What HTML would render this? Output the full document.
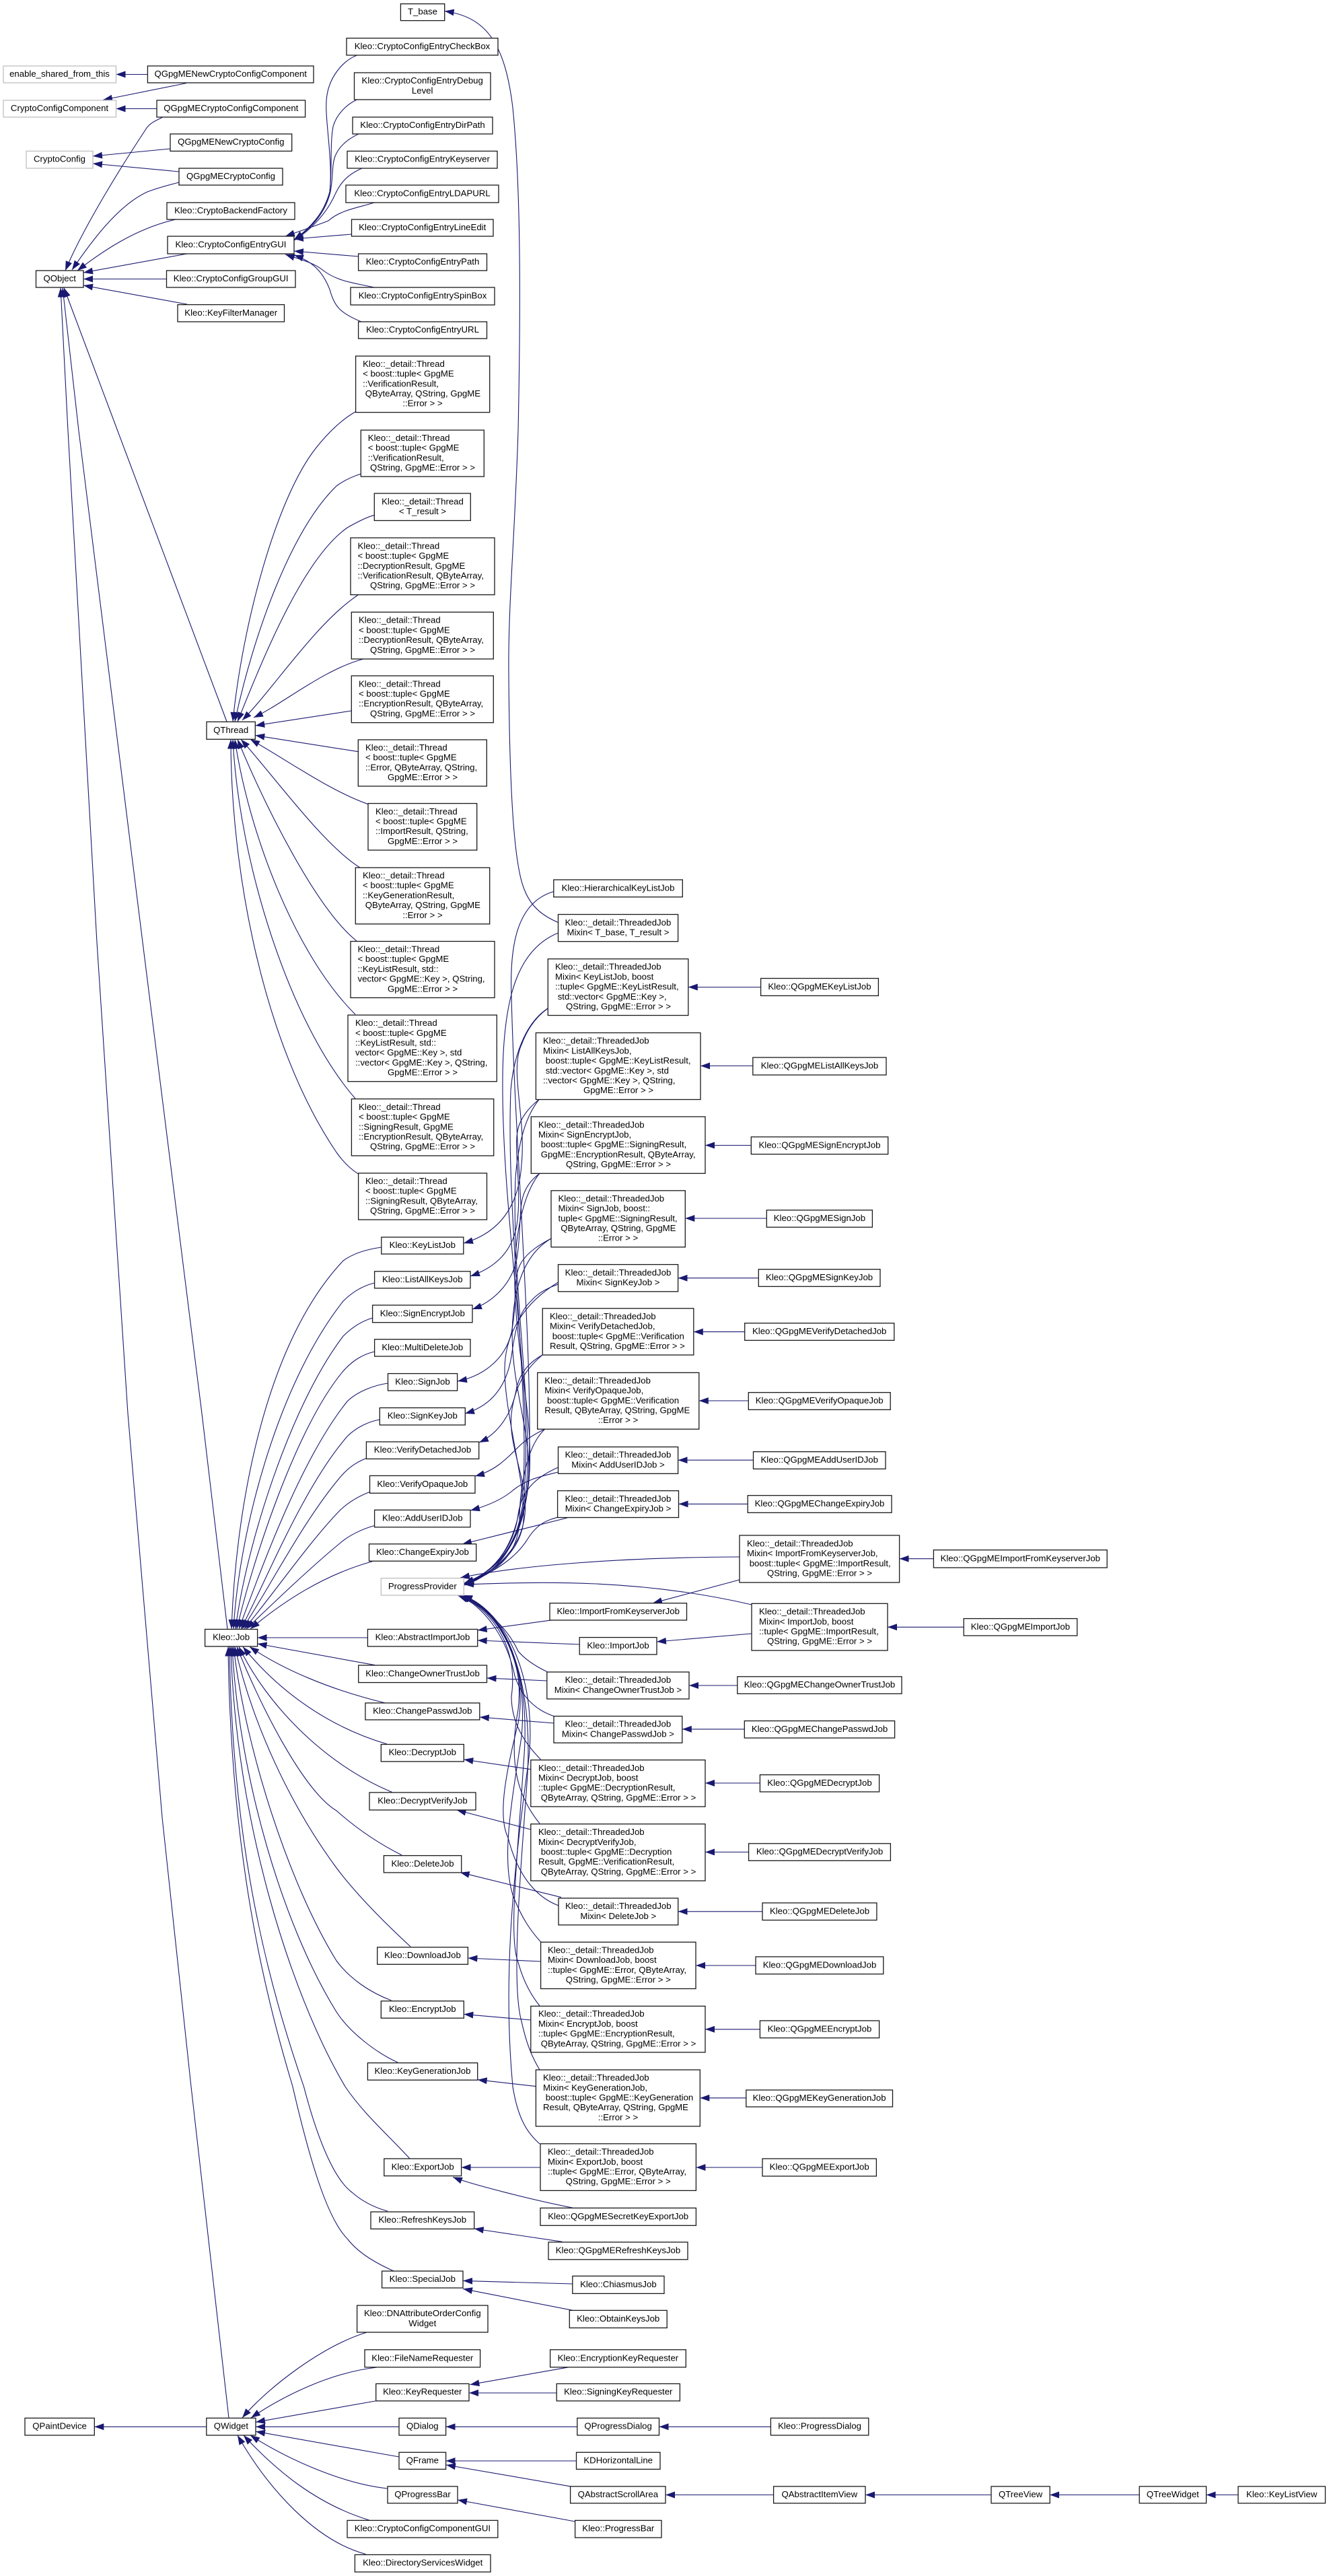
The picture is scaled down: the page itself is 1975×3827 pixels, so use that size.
<!DOCTYPE html>
<html><head><meta charset="utf-8"><title>Kleo class diagram</title>
<style>
html,body{margin:0;padding:0;background:#fff}
svg{display:block}
text{font-family:"Liberation Sans",sans-serif;font-size:13.2px;fill:#000;text-anchor:middle;stroke:none}
text.l{text-anchor:start}
.e path{fill:none;stroke:#191970;stroke-width:1.1;marker-start:url(#a)}
.n rect{fill:#fff;stroke:#1a1a1a;stroke-width:1.3}
.g rect{fill:#fff;stroke:#bfbfbf;stroke-width:1.3}
</style></head><body>
<svg xmlns="http://www.w3.org/2000/svg" width="1975" height="3827" viewBox="0 0 1975 3827">
<defs><marker id="a" markerUnits="userSpaceOnUse" markerWidth="14" markerHeight="10" viewBox="0 0 14 10" refX="14" refY="5" orient="auto-start-reverse"><path d="M0,0L14,5L0,10z" fill="#191970"/></marker></defs>
<rect width="1975" height="3827" fill="#fff"/>
<g class="e">
<path d="M172.5,110.5L219.4,110.5"/>
<path d="M153,148.5L277,123.5"/>
<path d="M172.5,161.5L233,161.5"/>
<path d="M97,402C125,335 185,240 218,190C224,182 232,179 242,174"/>
<path d="M138,232L253,221"/>
<path d="M138,243L266,255"/>
<path d="M107,401C135,360 175,305 219,285C235,279 250,275 266,271"/>
<path d="M115,402C150,375 200,340 261,326"/>
<path d="M124,405L278,377"/>
<path d="M124,414.5L247.5,414.5"/>
<path d="M124,424L278,452"/>
<path d="M660.7,16.5C720,25 750,60 762,160C772,260 775,400 770,640C765,800 755,900 756,1000C757,1150 762,1280 779,1321C790,1350 810,1362 829.5,1370.5"/>
<path d="M437,356C460,340 480,320 490,285C495,240 483,180 485,150C487,115 510,90 530.6,82"/>
<path d="M437,356C460,340 483,315 490,285C494,250 490,215 495,188C500,170 515,155 530.6,148"/>
<path d="M437,356C462,340 483,318 491,285C495,265 493,245 498,232C505,215 520,205 533,199"/>
<path d="M437,357C465,340 485,315 495,295C503,278 510,262 538,250"/>
<path d="M424,351C450,342 470,335 488,328C505,312 535,308 556,301"/>
<path d="M437,355L522.5,348"/>
<path d="M437,373L532.6,381"/>
<path d="M424,378C445,385 465,390 478,400C500,418 525,420 556,427"/>
<path d="M437,379C470,390 482,410 490,430C497,455 505,465 537,478"/>
<path d="M90,427.5L101,640L144,1400L190,2100L241,2700L284,3100L340,3592"/>
<path d="M93,427.5L117,640L212,1400L300,2100L338,2420"/>
<path d="M95,427.5L337,1072"/>
<path d="M346,1072C360,930 410,740 470,665C490,640 510,622 528.7,611.5"/>
<path d="M349,1072C375,950 430,790 500,722C512,713 524,708 536.3,704"/>
<path d="M353,1072C390,980 450,830 516,784C530,776 545,768 556.3,765.3"/>
<path d="M360,1070C405,1025 470,925 532,884"/>
<path d="M377,1066C420,1046 480,995 540,979"/>
<path d="M379.3,1078L522.3,1056"/>
<path d="M379.3,1092.5L532.3,1116.7"/>
<path d="M372,1098.5C420,1125 490,1175 547,1194.7"/>
<path d="M358,1098.5C405,1150 480,1255 535,1289"/>
<path d="M353,1098.5C395,1200 470,1350 530,1398"/>
<path d="M349,1098.5C370,1240 440,1420 528,1507"/>
<path d="M346,1098.5C355,1280 430,1520 528,1632"/>
<path d="M343,1098.5C343,1290 390,1550 500,1712Q515,1733 532,1743.7"/>
<path d="M344,2420C350,2250 390,2000 510,1873C525,1862 545,1856 566.8,1853"/>
<path d="M347,2420C355,2280 410,2060 510,1933C525,1918 540,1910 556.6,1906"/>
<path d="M350,2420C365,2300 430,2090 510,1985C525,1970 540,1962 553.6,1958"/>
<path d="M352,2420C375,2320 440,2120 510,2037C525,2020 540,2012 556.6,2008"/>
<path d="M355,2420C385,2340 445,2170 516,2082C530,2068 555,2058 576.5,2055"/>
<path d="M358,2420C395,2350 450,2210 516,2134C530,2120 548,2112 564.3,2109"/>
<path d="M360,2420C400,2360 450,2260 506,2194C518,2180 530,2172 544.4,2166.5"/>
<path d="M363,2420C405,2370 460,2290 506,2243C520,2230 535,2222 549.5,2216.5"/>
<path d="M366,2420C410,2378 460,2330 506,2292C520,2280 540,2271 556.6,2266.5"/>
<path d="M372,2420C420,2380 480,2340 553.6,2319.6"/>
<path d="M382.6,2433L546.4,2433"/>
<path d="M382.6,2442L557,2473.7"/>
<path d="M371,2446.5C420,2480 490,2510 572.4,2530"/>
<path d="M361,2446.5C400,2495 470,2560 575,2591"/>
<path d="M355,2446.5C395,2530 480,2620 582.6,2662.5"/>
<path d="M352,2446.5C385,2530 450,2660 500,2690Q545,2730 597,2756"/>
<path d="M349,2446.5C375,2560 430,2680 500,2775C530,2815 570,2855 610,2892"/>
<path d="M347,2446.5C365,2600 430,2800 500,2913C520,2940 550,2960 581.6,2972"/>
<path d="M345,2446.5C355,2640 420,2860 500,2989C520,3020 560,3050 591,3064"/>
<path d="M343,2446.5C350,2700 430,2960 513,3100C540,3140 575,3170 609,3207"/>
<path d="M341,2446.5C345,2750 400,2950 451.5,3100C475,3190 500,3240 523,3257C540,3272 558,3280 576,3285"/>
<path d="M339,2446.5C343,2750 390,2950 435,3100C465,3230 490,3300 517,3327C535,3350 565,3365 585,3374"/>
<path d="M689,1847C730,1835 770,1805 775,1730C782,1660 757,1590 775,1552C785,1525 800,1508 814.3,1498"/>
<path d="M699,1896C730,1885 760,1865 768,1820C777,1760 760,1700 772,1670C778,1655 790,1642 801,1633.5"/>
<path d="M702,1945C730,1935 760,1910 768,1870C775,1830 770,1790 780,1770C785,1758 793,1750 802,1743.3"/>
<path d="M680,2052C715,2045 750,2022 760,1980C770,1930 760,1900 775,1875C785,1860 800,1850 819,1840"/>
<path d="M691,2100C725,2090 752,2065 760,2015C766,1975 770,1950 790,1932C800,1920 815,1913 829.5,1908"/>
<path d="M712,2143C740,2130 762,2100 768,2060C775,2035 790,2022 806,2013"/>
<path d="M706,2193C735,2185 750,2170 770,2150C780,2140 795,2130 810,2123"/>
<path d="M699,2244C725,2237 745,2228 760,2216C780,2198 805,2193 829.5,2187"/>
<path d="M687,2294L843,2255"/>
<path d="M690,2355C735,2340 775,2300 785,2200C795,2050 765,1700 760,1480C757,1400 770,1340 822.8,1324.5"/>
<path d="M690,2354C730,2340 775,2310 780,2200C790,2050 745,1800 747,1600C748,1480 770,1410 829.5,1386"/>
<path d="M690,2353C735,2335 770,2300 778,2200C785,2050 752,1800 759,1620C763,1570 780,1520 814.3,1498"/>
<path d="M690,2353C735,2335 775,2300 783,2200C790,2080 760,1900 766,1750C770,1700 780,1660 801,1633.5"/>
<path d="M690,2352C735,2335 775,2300 786,2200C795,2100 762,2000 765,1880C768,1820 780,1770 802,1743"/>
<path d="M690,2352C735,2335 778,2300 785,2200C792,2130 755,2050 762,1960C766,1900 785,1860 819,1840"/>
<path d="M690,2352C730,2340 765,2310 775,2275C790,2230 750,2110 750,2035C750,1980 780,1935 829.5,1905"/>
<path d="M690,2352C735,2338 775,2300 780,2250C785,2200 755,2150 760,2100C765,2060 780,2035 806,2013"/>
<path d="M690,2352C735,2340 770,2310 772,2260C772,2220 780,2150 810,2123"/>
<path d="M690,2352C740,2335 765,2290 770,2250C775,2215 795,2195 829.5,2180"/>
<path d="M690,2352C740,2335 770,2310 785,2285C800,2262 815,2258 829,2254"/>
<path d="M684,2344C760,2328 900,2314 1099,2313"/>
<path d="M690,2354C800,2350 950,2345 1117,2384"/>
<path d="M680,2370C720,2385 755,2420 770,2453C780,2465 795,2475 812.8,2483.5"/>
<path d="M682,2370C725,2390 755,2440 765,2490C775,2520 795,2540 823,2549.6"/>
<path d="M684,2370C735,2395 770,2450 760,2520C760,2560 780,2590 803.6,2614"/>
<path d="M685,2370C740,2395 780,2460 770,2540C755,2620 770,2670 802,2709"/>
<path d="M687,2370C745,2395 785,2480 770,2560C750,2640 740,2700 755,2730C770,2790 800,2820 830,2831"/>
<path d="M688,2370C745,2395 785,2470 775,2580C760,2680 745,2760 762,2815C775,2850 790,2870 803.6,2885"/>
<path d="M688,2370C750,2395 790,2480 778,2620C770,2750 755,2880 770,2915C778,2945 790,2965 802,2980"/>
<path d="M688,2370C750,2395 795,2490 783,2650C772,2800 760,2950 775,3003C782,3035 790,3055 802,3075"/>
<path d="M688,2370C755,2395 800,2500 785,2620C760,2800 748,2950 762,3100C770,3150 785,3170 802,3185"/>
<path d="M709.7,2422L821.4,2406.7"/>
<path d="M709.7,2437L861,2443"/>
<path d="M970,2381.7L1099,2347"/>
<path d="M976,2439L1116.8,2427"/>
<path d="M723.5,2493L812.8,2497"/>
<path d="M712.8,2551L823,2560"/>
<path d="M689.3,2614L788.8,2628.6"/>
<path d="M678.6,2689L788.8,2718"/>
<path d="M683.7,2781.7L834,2818.7"/>
<path d="M695.4,2909L803.6,2914"/>
<path d="M689.3,2992.4L788.8,3001"/>
<path d="M709.7,3089.7L796.4,3099.6"/>
<path d="M685.6,3220L803,3220"/>
<path d="M673,3234.4C700,3245 790,3268 851,3280"/>
<path d="M704.7,3311L835.5,3330.4"/>
<path d="M688,3388.4L850.8,3393"/>
<path d="M688,3400.4L851.4,3432.4"/>
<path d="M360,3592C400,3545 480,3485 545,3465"/>
<path d="M373,3592C420,3560 490,3525 560,3517"/>
<path d="M380,3598.4L558,3567"/>
<path d="M380,3605.3L593,3605.3"/>
<path d="M380,3612.3L593,3650"/>
<path d="M372,3618C430,3655 510,3690 576,3697"/>
<path d="M362,3618C410,3670 470,3720 548.5,3744"/>
<path d="M353,3618C400,3700 470,3775 543.4,3794.5"/>
<path d="M140.3,3605.3L306.8,3605.3"/>
<path d="M698.4,3542.7L845,3516.8"/>
<path d="M697,3555L827.2,3555"/>
<path d="M662.6,3605.3L857.8,3605.3"/>
<path d="M979.5,3605.3L1145.4,3605.3"/>
<path d="M662.6,3656L856.5,3656"/>
<path d="M663,3662L848,3693.9"/>
<path d="M989,3706.5L1149.6,3706.5"/>
<path d="M1286,3706.5L1473,3706.5"/>
<path d="M1560,3706.5L1693,3706.5"/>
<path d="M1792.6,3706.5L1840,3706.5"/>
<path d="M680,3714L854.6,3746"/>
<path d="M1022.8,1466.5L1130.5,1466.5"/>
<path d="M1041,1583.5L1118.8,1583.5"/>
<path d="M1048,1701.5L1116.3,1701.5"/>
<path d="M1018.3,1810L1139.3,1810"/>
<path d="M1007.6,1898.7L1127.3,1898.7"/>
<path d="M1030.8,1978.6L1106.7,1978.6"/>
<path d="M1038.8,2081L1112.3,2081"/>
<path d="M1007.6,2169.2L1119.5,2169.2"/>
<path d="M1008.5,2234.4L1111.2,2234.4"/>
<path d="M1336.6,2315.7L1387.4,2315.7"/>
<path d="M1319,2417.3L1432.2,2417.3"/>
<path d="M1024,2504L1095.8,2504"/>
<path d="M1013.8,2568.9L1106.3,2568.9"/>
<path d="M1048,2649L1129.4,2649"/>
<path d="M1048,2751.5L1112.6,2751.5"/>
<path d="M1007.7,2839.8L1133,2839.8"/>
<path d="M1034,2920L1123,2920"/>
<path d="M1048,3014.8L1129.4,3014.8"/>
<path d="M1040.3,3116.8L1108.8,3116.8"/>
<path d="M1034.4,3220L1133,3220"/>
</g>
<g class="g">
<rect x="5" y="98" width="167.5" height="25"/><text x="88.5" y="114">enable_shared_from_this</text>
<rect x="5" y="149" width="167.5" height="25"/><text x="88.5" y="165">CryptoConfigComponent</text>
<rect x="39" y="224.5" width="99" height="25.5"/><text x="88.5" y="240.7">CryptoConfig</text>
<rect x="566.3" y="2344.6" width="123" height="25.4"/><text x="627.8" y="2360.8">ProgressProvider</text>
</g>
<g class="n">
<rect x="595.4" y="5.7" width="65.3" height="24.9"/><text x="628" y="21.6">T_base</text>
<rect x="515" y="56.7" width="225" height="25.3"/><text x="627.5" y="72.8">Kleo::CryptoConfigEntryCheckBox</text>
<rect x="526.5" y="108" width="202.5" height="40"/><text x="627.7" y="124.2">Kleo::CryptoConfigEntryDebug</text><text x="627.7" y="138.9">Level</text>
<rect x="524" y="174" width="208" height="25"/><text x="628" y="190">Kleo::CryptoConfigEntryDirPath</text>
<rect x="516" y="224.5" width="223" height="25.5"/><text x="627.5" y="240.7">Kleo::CryptoConfigEntryKeyserver</text>
<rect x="514" y="275" width="227" height="26"/><text x="627.5" y="291.5">Kleo::CryptoConfigEntryLDAPURL</text>
<rect x="522.5" y="326" width="210.5" height="25"/><text x="627.7" y="342">Kleo::CryptoConfigEntryLineEdit</text>
<rect x="532.6" y="377" width="190.9" height="25"/><text x="628" y="393">Kleo::CryptoConfigEntryPath</text>
<rect x="521" y="427" width="214" height="26"/><text x="628" y="443.5">Kleo::CryptoConfigEntrySpinBox</text>
<rect x="532.6" y="478" width="190.9" height="25"/><text x="628" y="494">Kleo::CryptoConfigEntryURL</text>
<rect x="219.4" y="98" width="246.6" height="25"/><text x="342.7" y="114">QGpgMENewCryptoConfigComponent</text>
<rect x="233" y="149" width="220.6" height="25"/><text x="343.3" y="165">QGpgMECryptoConfigComponent</text>
<rect x="253" y="199" width="180.7" height="25.5"/><text x="343.3" y="215.2">QGpgMENewCryptoConfig</text>
<rect x="266" y="250" width="154" height="25"/><text x="343" y="266">QGpgMECryptoConfig</text>
<rect x="248" y="301" width="190" height="25"/><text x="343" y="317">Kleo::CryptoBackendFactory</text>
<rect x="249" y="351" width="188" height="26"/><text x="343" y="367.5">Kleo::CryptoConfigEntryGUI</text>
<rect x="53.5" y="402" width="70.5" height="25"/><text x="88.7" y="418">QObject</text>
<rect x="247.5" y="402" width="191.5" height="25"/><text x="343.2" y="418">Kleo::CryptoConfigGroupGUI</text>
<rect x="264" y="452.6" width="158.5" height="25.4"/><text x="343.2" y="468.8">Kleo::KeyFilterManager</text>
<rect x="307" y="1072.4" width="72.3" height="25.9"/><text x="343.2" y="1088.8">QThread</text>

<rect x="528.6" y="529" width="199.1" height="83.6"/><text class="l" x="539.1" y="544.9">Kleo::_detail::Thread</text><text class="l" x="539.1" y="559.6">&lt; boost::tuple&lt; GpgME</text><text class="l" x="539.1" y="574.3">::VerificationResult,</text><text class="l" x="542.8" y="589">QByteArray, QString, GpgME</text><text x="628" y="603.7">::Error &gt; &gt;</text>
<rect x="536.3" y="639" width="183" height="69"/><text class="l" x="546.8" y="655">Kleo::_detail::Thread</text><text class="l" x="546.8" y="669.7">&lt; boost::tuple&lt; GpgME</text><text class="l" x="546.8" y="684.4">::VerificationResult,</text><text x="628" y="699">QString, GpgME::Error &gt; &gt;</text>
<rect x="556.3" y="733" width="143" height="40.4"/><text x="628" y="749.4">Kleo::_detail::Thread</text><text x="628" y="764">&lt; T_result &gt;</text>
<rect x="521" y="799" width="214" height="84.6"/><text class="l" x="531.5" y="815.4">Kleo::_detail::Thread</text><text class="l" x="531.5" y="830.1">&lt; boost::tuple&lt; GpgME</text><text class="l" x="531.5" y="844.8">::DecryptionResult, GpgME</text><text class="l" x="531.5" y="859.5">::VerificationResult, QByteArray,</text><text x="628" y="874.2">QString, GpgME::Error &gt; &gt;</text>
<rect x="522.3" y="909.4" width="211" height="69.6"/><text class="l" x="533" y="925.7">Kleo::_detail::Thread</text><text class="l" x="533" y="940.4">&lt; boost::tuple&lt; GpgME</text><text class="l" x="533" y="955.1">::DecryptionResult, QByteArray,</text><text x="628" y="969.8">QString, GpgME::Error &gt; &gt;</text>
<rect x="522.3" y="1004" width="211" height="69.6"/><text class="l" x="533" y="1020.3">Kleo::_detail::Thread</text><text class="l" x="533" y="1035">&lt; boost::tuple&lt; GpgME</text><text class="l" x="533" y="1049.7">::EncryptionResult, QByteArray,</text><text x="628" y="1064.4">QString, GpgME::Error &gt; &gt;</text>
<rect x="532.3" y="1099" width="191" height="69"/><text class="l" x="543" y="1115">Kleo::_detail::Thread</text><text class="l" x="543" y="1129.7">&lt; boost::tuple&lt; GpgME</text><text class="l" x="543" y="1144.4">::Error, QByteArray, QString,</text><text x="628" y="1159">GpgME::Error &gt; &gt;</text>
<rect x="547" y="1193.6" width="161.7" height="69.4"/><text class="l" x="558" y="1209.8">Kleo::_detail::Thread</text><text class="l" x="558" y="1224.5">&lt; boost::tuple&lt; GpgME</text><text class="l" x="558" y="1239.2">::ImportResult, QString,</text><text x="628" y="1253.9">GpgME::Error &gt; &gt;</text>
<rect x="528.3" y="1289" width="199.4" height="83.7"/><text class="l" x="539" y="1305">Kleo::_detail::Thread</text><text class="l" x="539" y="1319.7">&lt; boost::tuple&lt; GpgME</text><text class="l" x="539" y="1334.4">::KeyGenerationResult,</text><text class="l" x="542.7" y="1349">QByteArray, QString, GpgME</text><text x="628" y="1363.8">::Error &gt; &gt;</text>
<rect x="521" y="1398.5" width="214" height="83.8"/><text class="l" x="531.5" y="1414.5">Kleo::_detail::Thread</text><text class="l" x="531.5" y="1429.2">&lt; boost::tuple&lt; GpgME</text><text class="l" x="531.5" y="1443.9">::KeyListResult, std::</text><text class="l" x="531.5" y="1458.6">vector&lt; GpgME::Key &gt;, QString,</text><text x="628" y="1473.3">GpgME::Error &gt; &gt;</text>
<rect x="517" y="1508" width="221.3" height="98.7"/><text class="l" x="528" y="1524.1">Kleo::_detail::Thread</text><text class="l" x="528" y="1538.8">&lt; boost::tuple&lt; GpgME</text><text class="l" x="528" y="1553.5">::KeyListResult, std::</text><text class="l" x="528" y="1568.2">vector&lt; GpgME::Key &gt;, std</text><text class="l" x="528" y="1582.9">::vector&lt; GpgME::Key &gt;, QString,</text><text x="628" y="1597.6">GpgME::Error &gt; &gt;</text>
<rect x="522.4" y="1632.6" width="211.3" height="84.4"/><text class="l" x="533" y="1648.9">Kleo::_detail::Thread</text><text class="l" x="533" y="1663.6">&lt; boost::tuple&lt; GpgME</text><text class="l" x="533" y="1678.3">::SigningResult, GpgME</text><text class="l" x="533" y="1693">::EncryptionResult, QByteArray,</text><text x="628" y="1707.7">QString, GpgME::Error &gt; &gt;</text>
<rect x="532.6" y="1742.9" width="190.9" height="69.1"/><text class="l" x="543" y="1758.9">Kleo::_detail::Thread</text><text class="l" x="543" y="1773.6">&lt; boost::tuple&lt; GpgME</text><text class="l" x="543" y="1788.3">::SigningResult, QByteArray,</text><text x="628" y="1803">QString, GpgME::Error &gt; &gt;</text>

<rect x="566.8" y="1838" width="122" height="25"/><text x="627.8" y="1854">Kleo::KeyListJob</text>
<rect x="556.6" y="1888.8" width="142.4" height="25"/><text x="627.8" y="1904.8">Kleo::ListAllKeysJob</text>
<rect x="553.6" y="1939" width="148.4" height="25.7"/><text x="627.8" y="1955.3">Kleo::SignEncryptJob</text>
<rect x="556.6" y="1989.7" width="142.4" height="25.3"/><text x="627.8" y="2005.8">Kleo::MultiDeleteJob</text>
<rect x="576.5" y="2040.6" width="103.1" height="25.4"/><text x="628" y="2056.8">Kleo::SignJob</text>
<rect x="564.3" y="2091.5" width="127" height="25.5"/><text x="627.8" y="2107.7">Kleo::SignKeyJob</text>
<rect x="544.4" y="2142" width="167.3" height="25.4"/><text x="628" y="2158.2">Kleo::VerifyDetachedJob</text>
<rect x="549.5" y="2192.4" width="156.5" height="25.9"/><text x="627.8" y="2208.8">Kleo::VerifyOpaqueJob</text>
<rect x="556.6" y="2243.3" width="142.4" height="25.5"/><text x="627.8" y="2259.5">Kleo::AddUserIDJob</text>
<rect x="548.5" y="2293.8" width="159.2" height="25.4"/><text x="628" y="2310">Kleo::ChangeExpiryJob</text>
<rect x="304.6" y="2420.5" width="78" height="25.5"/><text x="343.6" y="2436.7">Kleo::Job</text>
<rect x="546.4" y="2420.5" width="163.3" height="25.5"/><text x="628" y="2436.7">Kleo::AbstractImportJob</text>
<rect x="532.7" y="2474" width="190.8" height="25.6"/><text x="628" y="2490.3">Kleo::ChangeOwnerTrustJob</text>
<rect x="542.9" y="2530" width="169.9" height="25"/><text x="627.8" y="2546">Kleo::ChangePasswdJob</text>
<rect x="566.3" y="2591.5" width="123" height="25.5"/><text x="627.8" y="2607.7">Kleo::DecryptJob</text>
<rect x="549" y="2663" width="158" height="26"/><text x="628" y="2679.5">Kleo::DecryptVerifyJob</text>
<rect x="570.4" y="2756.7" width="115.3" height="25.3"/><text x="628" y="2772.8">Kleo::DeleteJob</text>
<rect x="560.7" y="2892.9" width="134.7" height="25.4"/><text x="628" y="2909.1">Kleo::DownloadJob</text>
<rect x="566.3" y="2972.8" width="123" height="25.4"/><text x="627.8" y="2989">Kleo::EncryptJob</text>
<rect x="546.4" y="3064.7" width="163.3" height="25.5"/><text x="628" y="3081">Kleo::KeyGenerationJob</text>
<rect x="570.8" y="3207" width="114.8" height="25.6"/><text x="628.2" y="3223.3">Kleo::ExportJob</text>
<rect x="551" y="3286" width="153.7" height="25.4"/><text x="627.8" y="3302.2">Kleo::RefreshKeysJob</text>
<rect x="567.6" y="3374" width="120.4" height="25"/><text x="627.8" y="3390">Kleo::SpecialJob</text>
<rect x="530.6" y="3425" width="194.4" height="39.9"/><text x="627.8" y="3441.1">Kleo::DNAttributeOrderConfig</text><text x="627.8" y="3455.8">Widget</text>
<rect x="542" y="3490.8" width="171.6" height="26"/><text x="627.8" y="3507.3">Kleo::FileNameRequester</text>
<rect x="558.7" y="3541.4" width="138.3" height="25.5"/><text x="627.8" y="3557.6">Kleo::KeyRequester</text>
<rect x="593" y="3592.4" width="69.6" height="25.5"/><text x="627.8" y="3608.6">QDialog</text>
<rect x="306.8" y="3592.4" width="73.2" height="25.5"/><text x="343.4" y="3608.6">QWidget</text>
<rect x="37" y="3592.4" width="103.3" height="25.5"/><text x="88.6" y="3608.6">QPaintDevice</text>
<rect x="593" y="3643.3" width="69.6" height="25.1"/><text x="627.8" y="3659.3">QFrame</text>
<rect x="576" y="3693.9" width="104" height="25"/><text x="628" y="3709.9">QProgressBar</text>
<rect x="516" y="3744.4" width="223.8" height="25.6"/><text x="627.9" y="3760.7">Kleo::CryptoConfigComponentGUI</text>
<rect x="527.4" y="3795.4" width="201.6" height="25.6"/><text x="628.2" y="3811.7">Kleo::DirectoryServicesWidget</text>

<rect x="822.8" y="1307" width="191.5" height="25.6"/><text x="918.5" y="1323.3">Kleo::HierarchicalKeyListJob</text>
<rect x="829.5" y="1358.5" width="178.1" height="40.2"/><text x="918.5" y="1374.8">Kleo::_detail::ThreadedJob</text><text x="918.5" y="1389.5">Mixin&lt; T_base, T_result &gt;</text>
<rect x="814.3" y="1424.6" width="208.5" height="83.9"/><text class="l" x="825" y="1440.7">Kleo::_detail::ThreadedJob</text><text class="l" x="825" y="1455.4">Mixin&lt; KeyListJob, boost</text><text class="l" x="825" y="1470.1">::tuple&lt; GpgME::KeyListResult,</text><text class="l" x="828.7" y="1484.8">std::vector&lt; GpgME::Key &gt;,</text><text x="919" y="1499.5">QString, GpgME::Error &gt; &gt;</text>
<rect x="1130.6" y="1453.5" width="174.8" height="25.8"/><text x="1218" y="1470">Kleo::QGpgMEKeyListJob</text>
<rect x="796.4" y="1534.4" width="244.6" height="99.1"/><text class="l" x="807" y="1550.7">Kleo::_detail::ThreadedJob</text><text class="l" x="807" y="1565.4">Mixin&lt; ListAllKeysJob,</text><text class="l" x="810.7" y="1580.1">boost::tuple&lt; GpgME::KeyListResult,</text><text class="l" x="810.7" y="1594.8">std::vector&lt; GpgME::Key &gt;, std</text><text class="l" x="807" y="1609.5">::vector&lt; GpgME::Key &gt;, QString,</text><text x="919" y="1624.2">GpgME::Error &gt; &gt;</text>
<rect x="1118.8" y="1571" width="198.2" height="26"/><text x="1218" y="1587.5">Kleo::QGpgMEListAllKeysJob</text>
<rect x="789.3" y="1659" width="258.7" height="84.3"/><text class="l" x="800" y="1675.3">Kleo::_detail::ThreadedJob</text><text class="l" x="800" y="1690">Mixin&lt; SignEncryptJob,</text><text class="l" x="803.7" y="1704.7">boost::tuple&lt; GpgME::SigningResult,</text><text class="l" x="803.7" y="1719.4">GpgME::EncryptionResult, QByteArray,</text><text x="919" y="1734">QString, GpgME::Error &gt; &gt;</text>
<rect x="1116.3" y="1689" width="203.4" height="25.7"/><text x="1218" y="1705.3">Kleo::QGpgMESignEncryptJob</text>
<rect x="819" y="1768.8" width="199.3" height="83.9"/><text class="l" x="829.5" y="1784.9">Kleo::_detail::ThreadedJob</text><text class="l" x="829.5" y="1799.6">Mixin&lt; SignJob, boost::</text><text class="l" x="829.5" y="1814.3">tuple&lt; GpgME::SigningResult,</text><text class="l" x="833.2" y="1829">QByteArray, QString, GpgME</text><text x="918.5" y="1843.7">::Error &gt; &gt;</text>
<rect x="1139.3" y="1797.8" width="157.1" height="25.4"/><text x="1217.9" y="1814">Kleo::QGpgMESignJob</text>
<rect x="829.5" y="1878.6" width="178.1" height="40.2"/><text x="918.5" y="1894.9">Kleo::_detail::ThreadedJob</text><text x="918.5" y="1909.6">Mixin&lt; SignKeyJob &gt;</text>
<rect x="1127.3" y="1885.7" width="180.7" height="25.6"/><text x="1217.6" y="1902">Kleo::QGpgMESignKeyJob</text>
<rect x="806.3" y="1943.8" width="224.5" height="69.2"/><text class="l" x="817" y="1959.9">Kleo::_detail::ThreadedJob</text><text class="l" x="817" y="1974.6">Mixin&lt; VerifyDetachedJob,</text><text class="l" x="820.7" y="1989.3">boost::tuple&lt; GpgME::Verification</text><text class="l" x="817" y="2004">Result, QString, GpgME::Error &gt; &gt;</text>
<rect x="1106.7" y="1965.7" width="222.1" height="25.6"/><text x="1217.7" y="1982">Kleo::QGpgMEVerifyDetachedJob</text>
<rect x="798.7" y="2039.3" width="240.1" height="83.9"/><text class="l" x="809.3" y="2055.4">Kleo::_detail::ThreadedJob</text><text class="l" x="809.3" y="2070.1">Mixin&lt; VerifyOpaqueJob,</text><text class="l" x="813" y="2084.8">boost::tuple&lt; GpgME::Verification</text><text class="l" x="809.3" y="2099.5">Result, QByteArray, QString, GpgME</text><text x="918.5" y="2114.2">::Error &gt; &gt;</text>
<rect x="1112.3" y="2068.7" width="210.9" height="25.6"/><text x="1217.7" y="2085">Kleo::QGpgMEVerifyOpaqueJob</text>
<rect x="829.5" y="2149.6" width="178.1" height="39.7"/><text x="918.5" y="2165.6">Kleo::_detail::ThreadedJob</text><text x="918.5" y="2180.3">Mixin&lt; AddUserIDJob &gt;</text>
<rect x="1119.5" y="2156.7" width="196.5" height="25.6"/><text x="1217.7" y="2173">Kleo::QGpgMEAddUserIDJob</text>
<rect x="828.6" y="2214.7" width="179.9" height="39.8"/><text x="918.5" y="2230.8">Kleo::_detail::ThreadedJob</text><text x="918.5" y="2245.5">Mixin&lt; ChangeExpiryJob &gt;</text>
<rect x="1111.2" y="2221.7" width="213.8" height="25.6"/><text x="1218" y="2238">Kleo::QGpgMEChangeExpiryJob</text>
<rect x="1099" y="2281" width="237.6" height="70"/><text class="l" x="1110" y="2297.5">Kleo::_detail::ThreadedJob</text><text class="l" x="1110" y="2312.2">Mixin&lt; ImportFromKeyserverJob,</text><text class="l" x="1113.7" y="2326.9">boost::tuple&lt; GpgME::ImportResult,</text><text x="1218" y="2341.6">QString, GpgME::Error &gt; &gt;</text>
<rect x="1387.4" y="2302.7" width="257.8" height="26.3"/><text x="1516.3" y="2319.3">Kleo::QGpgMEImportFromKeyserverJob</text>
<rect x="1117" y="2382.3" width="202" height="69.7"/><text class="l" x="1128" y="2398.6">Kleo::_detail::ThreadedJob</text><text class="l" x="1128" y="2413.3">Mixin&lt; ImportJob, boost</text><text class="l" x="1128" y="2428">::tuple&lt; GpgME::ImportResult,</text><text x="1218" y="2442.7">QString, GpgME::Error &gt; &gt;</text>
<rect x="1432.2" y="2404.6" width="168.5" height="25.4"/><text x="1516.4" y="2420.8">Kleo::QGpgMEImportJob</text>
<rect x="817" y="2381.7" width="203.5" height="25.3"/><text x="918.7" y="2397.8">Kleo::ImportFromKeyserverJob</text>
<rect x="861.2" y="2432.6" width="114.8" height="25.4"/><text x="918.6" y="2448.8">Kleo::ImportJob</text>
<rect x="812.8" y="2484" width="211.2" height="40"/><text x="918.4" y="2500.2">Kleo::_detail::ThreadedJob</text><text x="918.4" y="2514.9">Mixin&lt; ChangeOwnerTrustJob &gt;</text>
<rect x="1095.8" y="2490.8" width="244.2" height="25.5"/><text x="1218" y="2507">Kleo::QGpgMEChangeOwnerTrustJob</text>
<rect x="823" y="2549.6" width="190.8" height="39.7"/><text x="918.4" y="2565.6">Kleo::_detail::ThreadedJob</text><text x="918.4" y="2580.3">Mixin&lt; ChangePasswdJob &gt;</text>
<rect x="1106.3" y="2556.6" width="223.3" height="25.4"/><text x="1218" y="2572.8">Kleo::QGpgMEChangePasswdJob</text>
<rect x="788.8" y="2614.7" width="259.2" height="69.3"/><text class="l" x="800" y="2630.8">Kleo::_detail::ThreadedJob</text><text class="l" x="800" y="2645.5">Mixin&lt; DecryptJob, boost</text><text class="l" x="800" y="2660.2">::tuple&lt; GpgME::DecryptionResult,</text><text class="l" x="803.7" y="2674.9">QByteArray, QString, GpgME::Error &gt; &gt;</text>
<rect x="1129.4" y="2636.7" width="177.2" height="25.3"/><text x="1218" y="2652.8">Kleo::QGpgMEDecryptJob</text>
<rect x="788.8" y="2709.8" width="259.2" height="84.4"/><text class="l" x="800" y="2726.1">Kleo::_detail::ThreadedJob</text><text class="l" x="800" y="2740.8">Mixin&lt; DecryptVerifyJob,</text><text class="l" x="803.7" y="2755.5">boost::tuple&lt; GpgME::Decryption</text><text class="l" x="800" y="2770.2">Result, GpgME::VerificationResult,</text><text class="l" x="803.7" y="2784.9">QByteArray, QString, GpgME::Error &gt; &gt;</text>
<rect x="1112.6" y="2738.8" width="210.8" height="25.5"/><text x="1218" y="2755">Kleo::QGpgMEDecryptVerifyJob</text>
<rect x="830" y="2820" width="177.7" height="39.8"/><text x="918.8" y="2836.1">Kleo::_detail::ThreadedJob</text><text x="918.8" y="2850.8">Mixin&lt; DeleteJob &gt;</text>
<rect x="1133" y="2827" width="169.9" height="25.6"/><text x="1218" y="2843.3">Kleo::QGpgMEDeleteJob</text>
<rect x="803.6" y="2885.3" width="230.4" height="69.2"/><text class="l" x="814" y="2901.4">Kleo::_detail::ThreadedJob</text><text class="l" x="814" y="2916.1">Mixin&lt; DownloadJob, boost</text><text class="l" x="814" y="2930.8">::tuple&lt; GpgME::Error, QByteArray,</text><text x="918.8" y="2945.5">QString, GpgME::Error &gt; &gt;</text>
<rect x="1123" y="2907" width="189.8" height="25.7"/><text x="1218" y="2923.4">Kleo::QGpgMEDownloadJob</text>
<rect x="788.8" y="2980.4" width="259.2" height="68.6"/><text class="l" x="800" y="2996.2">Kleo::_detail::ThreadedJob</text><text class="l" x="800" y="3010.9">Mixin&lt; EncryptJob, boost</text><text class="l" x="800" y="3025.6">::tuple&lt; GpgME::EncryptionResult,</text><text class="l" x="803.7" y="3040.3">QByteArray, QString, GpgME::Error &gt; &gt;</text>
<rect x="1129.4" y="3002" width="177.2" height="25.6"/><text x="1218" y="3018.3">Kleo::QGpgMEEncryptJob</text>
<rect x="796.4" y="3075" width="243.9" height="83.9"/><text class="l" x="807" y="3091.1">Kleo::_detail::ThreadedJob</text><text class="l" x="807" y="3105.8">Mixin&lt; KeyGenerationJob,</text><text class="l" x="810.7" y="3120.5">boost::tuple&lt; GpgME::KeyGeneration</text><text class="l" x="807" y="3135.2">Result, QByteArray, QString, GpgME</text><text x="918.5" y="3149.9">::Error &gt; &gt;</text>
<rect x="1108.8" y="3105" width="217.7" height="25"/><text x="1217.6" y="3121">Kleo::QGpgMEKeyGenerationJob</text>
<rect x="803" y="3184.8" width="231.4" height="69.6"/><text class="l" x="814" y="3201.1">Kleo::_detail::ThreadedJob</text><text class="l" x="814" y="3215.8">Mixin&lt; ExportJob, boost</text><text class="l" x="814" y="3230.5">::tuple&lt; GpgME::Error, QByteArray,</text><text x="918.7" y="3245.2">QString, GpgME::Error &gt; &gt;</text>
<rect x="1133" y="3207" width="169.4" height="26"/><text x="1217.7" y="3223.5">Kleo::QGpgMEExportJob</text>
<rect x="803" y="3280.3" width="231.4" height="26"/><text x="918.7" y="3296.8">Kleo::QGpgMESecretKeyExportJob</text>
<rect x="815" y="3331" width="207" height="25.8"/><text x="918.5" y="3347.4">Kleo::QGpgMERefreshKeysJob</text>
<rect x="850.8" y="3381.4" width="136.2" height="26"/><text x="918.9" y="3397.9">Kleo::ChiasmusJob</text>
<rect x="846.3" y="3432.4" width="144.9" height="26"/><text x="918.7" y="3448.9">Kleo::ObtainKeysJob</text>
<rect x="817.6" y="3490.8" width="201.7" height="26"/><text x="918.4" y="3507.3">Kleo::EncryptionKeyRequester</text>
<rect x="827.2" y="3541.4" width="183.2" height="25.5"/><text x="918.8" y="3557.6">Kleo::SigningKeyRequester</text>
<rect x="857.8" y="3592.4" width="121.7" height="25.5"/><text x="918.6" y="3608.6">QProgressDialog</text>
<rect x="856.5" y="3643.3" width="124.5" height="25.1"/><text x="918.7" y="3659.3">KDHorizontalLine</text>
<rect x="847.6" y="3693.9" width="141.4" height="25"/><text x="918.3" y="3709.9">QAbstractScrollArea</text>
<rect x="854.6" y="3744.4" width="128.4" height="25.6"/><text x="918.8" y="3760.7">Kleo::ProgressBar</text>
<rect x="1145.4" y="3592.4" width="145.4" height="25.5"/><text x="1218.1" y="3608.6">Kleo::ProgressDialog</text>
<rect x="1149.6" y="3693.9" width="136.4" height="25"/><text x="1217.8" y="3709.9">QAbstractItemView</text>
<rect x="1473" y="3693.9" width="87.2" height="25"/><text x="1516.6" y="3709.9">QTreeView</text>
<rect x="1693.2" y="3693.9" width="99.4" height="25"/><text x="1742.9" y="3709.9">QTreeWidget</text>
<rect x="1840" y="3693.9" width="129.5" height="25"/><text x="1904.7" y="3709.9">Kleo::KeyListView</text>
</g>
</svg>
</body></html>
